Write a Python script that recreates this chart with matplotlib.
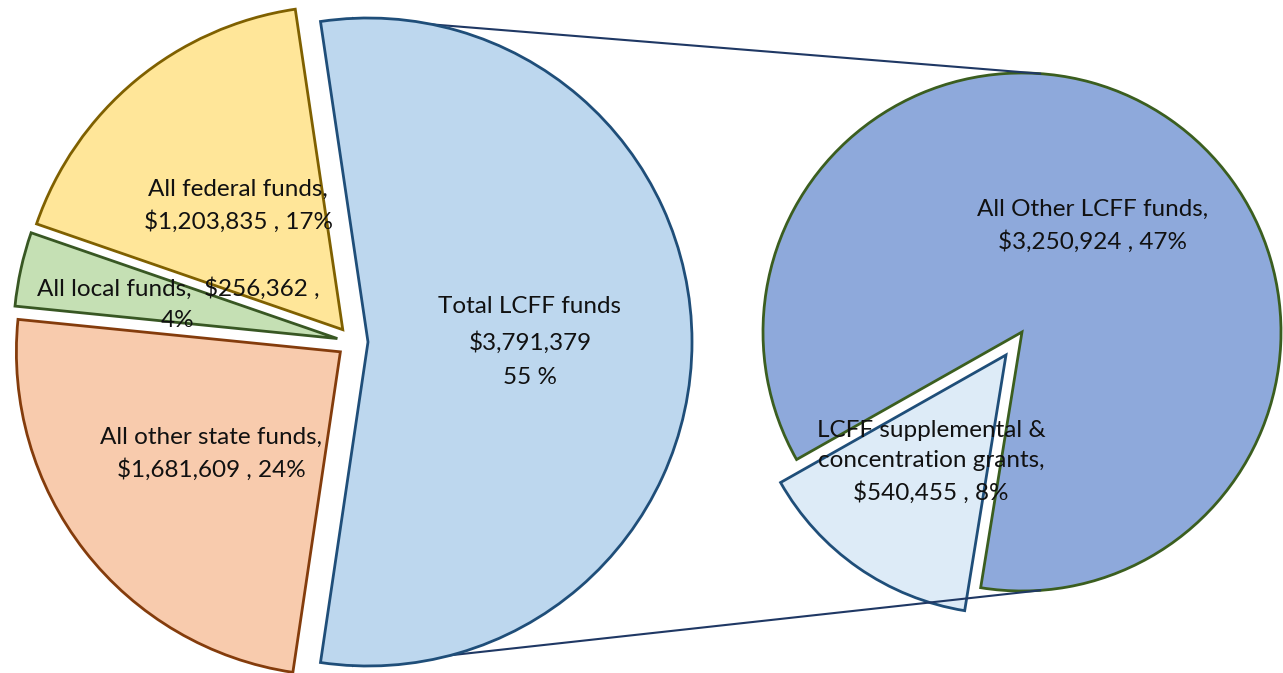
import numpy as np
import matplotlib.pyplot as plt

plt.rcParams['font.family'] = ['Lato', 'DejaVu Sans']

# ---- data
main_names = ['Total LCFF funds', 'All federal funds', 'All local funds', 'All other state funds']
main_vals = [3791379, 1203835, 256362, 1681609]
sub_names = ['All Other LCFF funds', 'LCFF supplemental &\nconcentration grants']
sub_vals = [3250924, 540455]

main_fill = ['#BDD7EE', '#FFE699', '#C5E0B4', '#F8CBAD']
main_edge = ['#1F4E79', '#7F6000', '#385723', '#843C0C']
sub_fill = ['#8EA9DB', '#DDEBF7']
sub_edge = ['#3B5E1F', '#1F4E79']

total = sum(main_vals)
pct = lambda v: 100.0 * v / total

# ---- layout (pixel-ish units, y up)
W, H = 1283, 673
c1, r1 = (353, 331), 324
c2, r2 = (1022, 341), 259
lcff_deg = 360.0 * main_vals[0] / total
supp_deg = 360.0 * sub_vals[1] / sum(sub_vals)

fig = plt.figure(figsize=(W / 100, H / 100), dpi=100)
ax = fig.add_axes([0, 0, 1, 1])

w1, _ = ax.pie(main_vals, center=c1, radius=r1, startangle=-lcff_deg / 2,
               explode=[15, 16, 16, 16], colors=main_fill,
               wedgeprops=dict(linewidth=2))
for w, ec in zip(w1, main_edge):
    w.set_edgecolor(ec)
    w.set_zorder(3)

w2, _ = ax.pie(sub_vals, center=c2, radius=r2, startangle=209.5 + supp_deg,
               explode=[0, 28], colors=sub_fill,
               wedgeprops=dict(linewidth=2))
for w, ec in zip(w2, sub_edge):
    w.set_edgecolor(ec)
    w.set_zorder(1)

# pie() resets the limits, so set them afterwards
ax.set_xlim(0, W)
ax.set_ylim(0, H)
ax.set_aspect('equal')
ax.axis('off')

# connector lines between the pies
a = np.deg2rad(86)
for s in (1, -1):
    ax.plot([c1[0], c2[0] + r2 * np.cos(a)],
            [c1[1] + s * r1, c2[1] + s * r2 * np.sin(a)],
            color='#1F3864', lw=1.5, zorder=2)

# ---- labels
fs = 17.5
main_lbl = [
    '%s\n$%s\n%d %%' % (main_names[0], format(main_vals[0], ','), round(pct(main_vals[0]))),
    '%s,\n$%s , %d%%' % (main_names[1], format(main_vals[1], ','), round(pct(main_vals[1]))),
    '%s,  $%s ,\n%d%%' % (main_names[2], format(main_vals[2], ','), round(pct(main_vals[2]))),
    '%s,\n$%s , %d%%' % (main_names[3], format(main_vals[3], ','), round(pct(main_vals[3]))),
]
main_pos = [(530, 342), (238, 206), (178, 304), (211, 454)]
main_ls = [1.75, 1.55, 1.55, 1.55]
for t, (x, y), ls in zip(main_lbl, main_pos, main_ls):
    ax.text(x, H - y, t, ha='center', va='center', fontsize=fs,
            linespacing=ls, color='#111111', zorder=5)

sub_lbl = ['%s,\n$%s , %d%%' % (n, format(v, ','), round(pct(v)))
           for n, v in zip(sub_names, sub_vals)]
sub_pos = [(1093, 226), (931, 462)]
for t, (x, y) in zip(sub_lbl, sub_pos):
    ax.text(x, H - y, t, ha='center', va='center', fontsize=fs,
            linespacing=1.55, color='#111111', zorder=5)

plt.savefig('out.png', dpi=100)
